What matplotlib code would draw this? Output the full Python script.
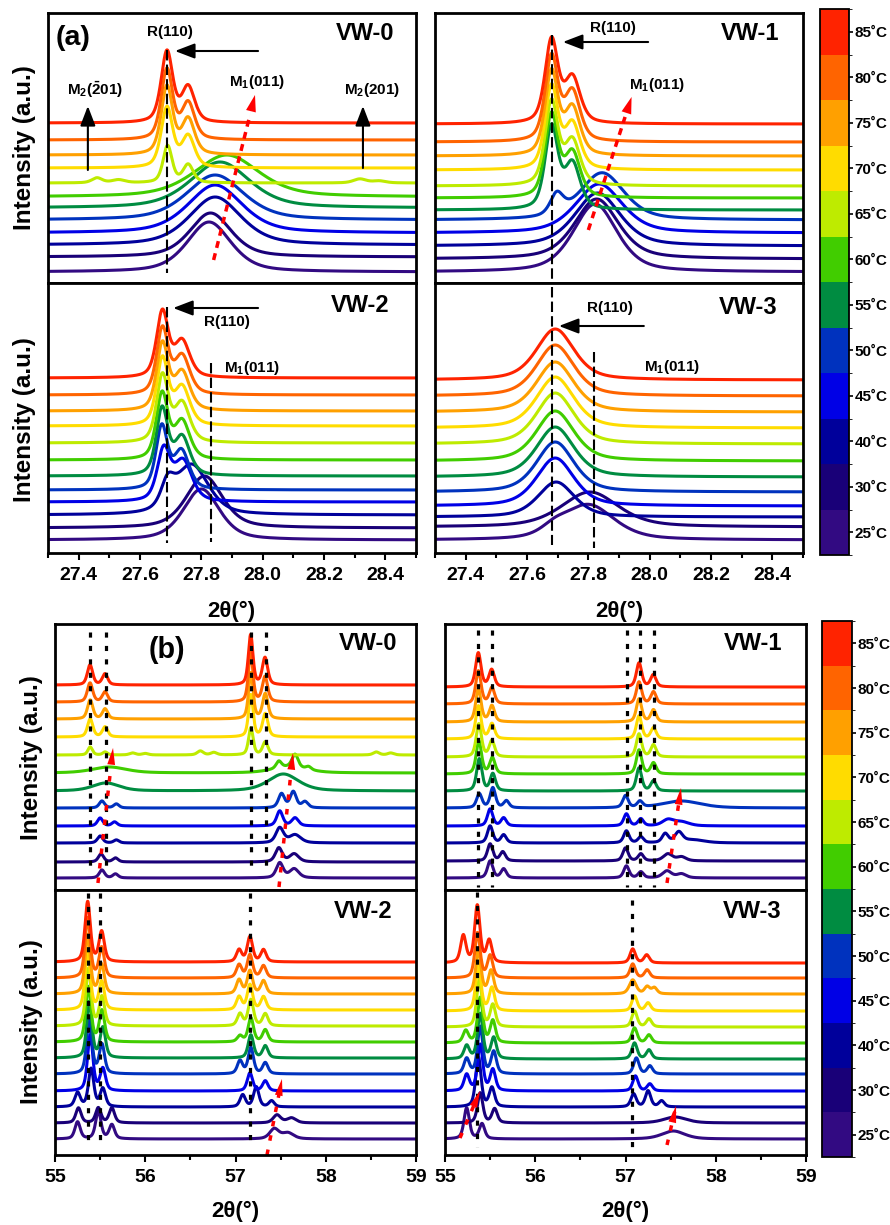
import numpy as np
import matplotlib
matplotlib.use('Agg')
import matplotlib.pyplot as plt
from matplotlib.colors import ListedColormap, BoundaryNorm
from matplotlib.cm import ScalarMappable
from matplotlib.ticker import MultipleLocator

plt.rcParams['font.family'] = ['Liberation Sans', 'DejaVu Sans']
plt.rcParams['font.weight'] = 'bold'
plt.rcParams['mathtext.fontset'] = 'custom'
plt.rcParams['mathtext.rm'] = 'Liberation Sans:bold'
plt.rcParams['mathtext.bf'] = 'Liberation Sans:bold'
plt.rcParams['mathtext.it'] = 'Liberation Sans:bold'

# ---------------- data ----------------
temps = [25, 30, 40, 45, 50, 55, 60, 65, 70, 75, 80, 85]
temp_labels = [f"{t}\u02daC" for t in temps]
colors = ['#320A82', '#190078', '#00009B', '#0000E6', '#0032BE', '#008C41',
          '#41CD00', '#BEEB00', '#FFDC00', '#FFA000', '#FF6400', '#FF2300']

# (a) 2theta 27.3-28.5 ; peaks = (centre, height, fwhm), curves ordered 25..85 C
a_vw0_base = [11, 26, 38, 50, 63, 75, 86, 100, 115, 128, 143, 160]
a_vw0_peaks = [
    [(27.825, 50, 0.17)],
    [(27.83, 44, 0.16)],
    [(27.845, 48, 0.20)],
    [(27.845, 48, 0.21)],
    [(27.845, 45, 0.22)],
    [(27.861, 46, 0.23)],
    [(27.883, 42, 0.25)],
    [(27.69, 37, 0.035), (27.757, 18, 0.04), (27.46, 5, 0.04), (27.53, 3, 0.05),
     (28.317, 4, 0.05), (28.38, 2, 0.05)],
    [(27.688, 60, 0.045), (27.757, 31, 0.05)],
    [(27.688, 68, 0.045), (27.757, 35, 0.05)],
    [(27.688, 70, 0.045), (27.757, 36, 0.05)],
    [(27.688, 71, 0.045), (27.757, 35, 0.05)],
]
a_vw1_base = [11, 24, 37, 50, 63, 73, 85, 97, 113, 127, 141, 159]
a_vw1_peaks = [
    [(27.822, 68, 0.17)],
    [(27.827, 60, 0.17)],
    [(27.83, 53, 0.175)],
    [(27.835, 49, 0.18)],
    [(27.697, 20, 0.05), (27.845, 47, 0.17)],
    [(27.68, 82, 0.05), (27.748, 45, 0.06)],
    [(27.68, 82, 0.05), (27.748, 44, 0.06)],
    [(27.68, 83, 0.05), (27.748, 44, 0.06)],
    [(27.68, 82, 0.05), (27.748, 45, 0.06)],
    [(27.68, 83, 0.05), (27.748, 47, 0.06)],
    [(27.68, 84, 0.05), (27.748, 49, 0.06)],
    [(27.68, 83, 0.05), (27.748, 45, 0.06)],
]
a_vw2_base = [13, 25, 38, 51, 63, 77, 93, 110, 127, 142, 158, 175]
a_vw2_peaks = [
    [(27.80, 51, 0.14)],
    [(27.81, 52, 0.14)],
    [(27.69, 22, 0.05), (27.768, 50, 0.13)],
    [(27.677, 50, 0.05), (27.74, 40, 0.07)],
    [(27.671, 62, 0.045), (27.735, 38, 0.06)],
    [(27.672, 66, 0.045), (27.737, 38, 0.06)],
    [(27.672, 65, 0.045), (27.737, 38, 0.06)],
    [(27.673, 66, 0.045), (27.737, 39, 0.06)],
    [(27.673, 66, 0.045), (27.737, 38, 0.06)],
    [(27.673, 66, 0.045), (27.737, 38, 0.06)],
    [(27.673, 65, 0.045), (27.737, 38, 0.06)],
    [(27.673, 65, 0.045), (27.737, 36, 0.06)],
]
a_vw3_base = [13, 26, 36, 47, 61, 76, 92, 109, 125, 141, 157, 173]
a_vw3_peaks = [
    [(27.69, 7, 0.10), (27.80, 35, 0.20)],
    [(27.805, 35, 0.22)],
    [(27.695, 35, 0.14)],
    [(27.692, 48, 0.145)],
    [(27.692, 50, 0.145)],
    [(27.692, 50, 0.145)],
    [(27.692, 50, 0.145)],
    [(27.692, 51, 0.145)],
    [(27.692, 51, 0.145)],
    [(27.692, 50, 0.145)],
    [(27.692, 51, 0.145)],
    [(27.692, 51, 0.145)],
]

# (b) 2theta 55-59
b_vw0_base = [12, 28, 47, 64, 82, 99, 117, 135, 153, 171, 188, 205]
b_vw0_peaks = [
    [(55.52, 8, 0.07), (55.67, 4, 0.07), (57.49, 15, 0.09), (57.65, 9, 0.12)],
    [(55.51, 8, 0.07), (55.67, 4, 0.07), (57.48, 14, 0.09), (57.65, 8, 0.12)],
    [(55.50, 7, 0.07), (55.68, 3, 0.07), (57.49, 15, 0.10), (57.66, 8, 0.15)],
    [(55.50, 8, 0.07), (55.66, 4, 0.07), (57.49, 15, 0.08), (57.66, 8, 0.09)],
    [(55.52, 7, 0.07), (55.68, 4, 0.07), (57.51, 14, 0.08), (57.64, 16, 0.08),
     (57.77, 6, 0.08)],
    [(55.565, 8, 0.35), (57.53, 17, 0.40)],
    [(55.60, 6, 0.45), (57.60, 6, 0.45), (57.48, 7, 0.07), (57.66, 13, 0.08),
     (57.81, 3, 0.07)],
    [(55.39, 8, 0.06), (55.555, 3, 0.06), (55.86, 2, 0.08), (56.0, 1.5, 0.08),
     (56.61, 4, 0.08), (56.76, 2.5, 0.08), (57.17, 27, 0.06), (57.33, 13, 0.07),
     (58.56, 3, 0.08), (58.72, 2, 0.08)],
    [(55.39, 18, 0.07), (55.555, 10, 0.07), (57.17, 42, 0.06), (57.33, 23, 0.07)],
    [(55.39, 19, 0.07), (55.555, 10, 0.07), (57.17, 46, 0.06), (57.33, 25, 0.07)],
    [(55.388, 19, 0.07), (55.554, 10, 0.07), (57.168, 49, 0.06), (57.327, 25, 0.07)],
    [(55.388, 20, 0.07), (55.554, 11, 0.07), (57.168, 50, 0.06), (57.327, 27, 0.07)],
]
b_vw1_base = [12, 29, 47, 64, 82, 99, 116, 133, 151, 168, 186, 203]
b_vw1_peaks = [
    [(55.50, 17, 0.07), (55.65, 9, 0.07), (57.01, 12, 0.07), (57.17, 6, 0.07),
     (57.46, 7, 0.12), (57.62, 4, 0.12)],
    [(55.50, 17, 0.07), (55.64, 9, 0.07), (57.00, 13, 0.07), (57.17, 7, 0.07),
     (57.47, 7, 0.12), (57.62, 4, 0.12)],
    [(55.50, 17, 0.07), (55.65, 8, 0.07), (57.01, 12, 0.07), (57.17, 6, 0.07),
     (57.44, 9, 0.08), (57.59, 10, 0.10), (57.75, 3, 0.30)],
    [(55.50, 17, 0.07), (55.65, 8, 0.07), (57.01, 12, 0.07), (57.17, 7, 0.07),
     (57.47, 6, 0.15), (57.62, 4, 0.20)],
    [(55.38, 14, 0.07), (55.53, 20, 0.07), (55.68, 7, 0.07), (57.00, 12, 0.07),
     (57.16, 6, 0.07), (57.62, 7, 0.50)],
    [(55.38, 32, 0.07), (55.53, 17, 0.07), (57.15, 23, 0.07), (57.31, 10, 0.07)],
    [(55.375, 33, 0.07), (55.525, 16, 0.07), (57.15, 24, 0.07), (57.31, 11, 0.07)],
    [(55.375, 33, 0.07), (55.52, 16, 0.07), (57.15, 23, 0.07), (57.31, 12, 0.07)],
    [(55.37, 33, 0.07), (55.52, 15, 0.07), (57.15, 23, 0.07), (57.31, 11, 0.07)],
    [(55.37, 33, 0.07), (55.52, 16, 0.07), (57.15, 23, 0.07), (57.31, 12, 0.07)],
    [(55.37, 33, 0.07), (55.52, 16, 0.07), (57.15, 22, 0.07), (57.31, 12, 0.07)],
    [(55.369, 34, 0.07), (55.517, 17, 0.07), (57.15, 24, 0.07), (57.308, 12, 0.07)],
]
b_vw2_base = [16, 32, 48, 64, 81, 97, 113, 129, 145, 161, 177, 193]
b_vw2_peaks = [
    [(55.25, 17, 0.07), (55.48, 28, 0.07), (55.63, 14, 0.07), (57.43, 10, 0.12),
     (57.58, 6, 0.15)],
    [(55.26, 15, 0.07), (55.48, 15, 0.07), (55.63, 15, 0.07), (57.46, 8, 0.10),
     (57.62, 5, 0.12)],
    [(55.25, 14, 0.07), (55.40, 38, 0.07), (55.53, 18, 0.07), (57.08, 12, 0.07),
     (57.23, 20, 0.07), (57.40, 6, 0.07)],
    [(55.39, 56, 0.07), (55.53, 22, 0.07), (57.16, 18, 0.07), (57.33, 10, 0.07)],
    [(55.38, 56, 0.07), (55.52, 29, 0.07), (57.05, 13, 0.07), (57.17, 26, 0.07),
     (57.33, 11, 0.07)],
    [(55.38, 56, 0.07), (55.53, 30, 0.07), (57.17, 23, 0.07), (57.33, 12, 0.07)],
    [(55.37, 55, 0.07), (55.52, 31, 0.07), (57.05, 6, 0.07), (57.17, 24, 0.07),
     (57.33, 12, 0.07)],
    [(55.37, 57, 0.07), (55.52, 29, 0.07), (57.05, 12, 0.07), (57.17, 26, 0.07),
     (57.33, 12, 0.07)],
    [(55.362, 58, 0.07), (55.517, 28, 0.07), (57.04, 13, 0.07), (57.16, 25, 0.07),
     (57.31, 13, 0.07)],
    [(55.362, 59, 0.07), (55.517, 29, 0.07), (57.04, 14, 0.07), (57.16, 23, 0.07),
     (57.31, 13, 0.07)],
    [(55.362, 60, 0.07), (55.517, 30, 0.07), (57.04, 13, 0.07), (57.16, 23, 0.07),
     (57.31, 12, 0.07)],
    [(55.362, 60, 0.07), (55.517, 30, 0.07), (57.04, 12, 0.07), (57.16, 25, 0.07),
     (57.31, 12, 0.07)],
]
b_vw3_base = [16, 32, 48, 64, 81, 96, 112, 128, 144, 161, 177, 192]
b_vw3_peaks = [
    [(55.24, 31, 0.07), (55.41, 15, 0.07), (57.53, 8, 0.30)],
    [(55.39, 30, 0.07), (55.55, 14, 0.07), (57.55, 6, 0.30)],
    [(55.37, 50, 0.07), (55.52, 19, 0.07), (57.09, 13, 0.07), (57.25, 16, 0.07),
     (57.40, 6, 0.07)],
    [(55.24, 16, 0.07), (55.39, 46, 0.07), (55.53, 21, 0.07), (57.11, 15, 0.07),
     (57.27, 7, 0.07)],
    [(55.24, 15, 0.07), (55.39, 47, 0.07), (55.54, 22, 0.07), (57.12, 16, 0.07),
     (57.27, 8, 0.07)],
    [(55.24, 13, 0.07), (55.39, 45, 0.07), (55.54, 21, 0.07), (57.10, 16, 0.07),
     (57.26, 9, 0.07)],
    [(55.23, 12, 0.07), (55.39, 45, 0.07), (55.53, 22, 0.07), (57.10, 15, 0.07),
     (57.26, 8, 0.07)],
    [(55.38, 47, 0.07), (55.53, 22, 0.07), (57.10, 16, 0.07), (57.26, 8, 0.07)],
    [(55.37, 46, 0.07), (55.52, 23, 0.07), (57.10, 15, 0.07), (57.25, 8, 0.07)],
    [(55.37, 44, 0.07), (55.51, 23, 0.07), (57.08, 14, 0.09), (57.24, 7, 0.07),
     (57.32, 6, 0.07)],
    [(55.36, 45, 0.07), (55.50, 22, 0.07), (57.08, 14, 0.07), (57.24, 8, 0.07)],
    [(55.203, 27, 0.07), (55.358, 57, 0.07), (55.49, 22, 0.07), (57.08, 14, 0.07),
     (57.235, 8, 0.07)],
]

# ---------------- helpers ----------------
W, H = 890, 1225


def profile(x, peaks, eta=0.5):
    y = np.zeros_like(x)
    for c, h, w in peaks:
        d = (x - c) / w
        y += h * (eta / (1 + 4 * d ** 2) + (1 - eta) * np.exp(-4 * np.log(2) * d ** 2))
    return y


def add_ax(fig, x0, y0, x1, y1):
    return fig.add_axes([x0 / W, 1 - y1 / H, (x1 - x0) / W, (y1 - y0) / H])


def draw_panel(ax, x, base, peaks, xlim, ylim, bottom):
    for b, p, c in zip(base, peaks, colors):
        ax.plot(x, b + profile(x, p), color=c, lw=2.2, solid_capstyle='butt')
    ax.set_xlim(*xlim)
    ax.set_ylim(*ylim)
    ax.set_yticks([])
    for s in ax.spines.values():
        s.set_linewidth(2.0)
    if not bottom:
        ax.tick_params(axis='x', which='both', bottom=False, labelbottom=False)


def red_arrow(ax, x0, y0, x1, y1, hw, dash):
    f = 0.15
    ax.plot([x0, x1 - f * (x1 - x0)], [y0, y1 - f * (y1 - y0)], color='red', lw=2.5,
            ls=dash, dash_capstyle='butt', clip_on=False)
    ax.annotate('', xy=(x1, y1), xytext=(x1 - 0.25 * (x1 - x0), y1 - 0.25 * (y1 - y0)),
                arrowprops=dict(arrowstyle=f'-|>,head_length=0.6,head_width={hw}',
                                color='red', lw=0.01, mutation_scale=20,
                                shrinkA=0, shrinkB=0))


def black_arrow(ax, x0, x1, y):
    ax.annotate('', xy=(x1, y), xytext=(x0, y),
                arrowprops=dict(arrowstyle='-|>,head_length=0.6,head_width=0.23',
                                color='black', lw=1.5, mutation_scale=20,
                                shrinkA=0, shrinkB=0))


def vline(ax, x, y0, y1, style):
    if style == 'dash':
        ax.plot([x, x], [y0, y1], color='black', lw=1.5, ls=(0, (5, 2)), dash_capstyle='butt')
    else:
        ax.plot([x, x], [y0, y1], color='black', lw=2.3, ls=(0, (1.6, 2.6)),
                dash_capstyle='butt')


def colorbar(fig, x0, y0, x1, y1):
    cax = add_ax(fig, x0, y0, x1, y1)
    cmap = ListedColormap(colors)
    norm = BoundaryNorm(np.arange(len(colors) + 1), cmap.N)
    cb = fig.colorbar(ScalarMappable(norm=norm, cmap=cmap), cax=cax,
                      ticks=np.arange(len(colors)) + 0.5)
    cb.set_ticklabels(temp_labels)
    cb.outline.set_linewidth(1.3)
    cax.tick_params(axis='y', length=3, width=1.2, pad=1.2, labelsize=11)
    for t in cax.get_yticklabels():
        t.set_fontweight('bold')
    return cax


fig = plt.figure(figsize=(W / 100, H / 100), dpi=100)

xa = np.linspace(27.3, 28.5, 1500)
xb = np.linspace(55, 59, 3000)
lim_a = (27.3, 28.5)
lim_b = (55, 59)

# ---------------- (a) ----------------
ax_a0 = add_ax(fig, 48, 13, 416, 283)
ax_a2 = add_ax(fig, 48, 283, 416, 553)
ax_a1 = add_ax(fig, 435, 13, 803, 283)
ax_a3 = add_ax(fig, 435, 283, 803, 553)
draw_panel(ax_a0, xa, a_vw0_base, a_vw0_peaks, lim_a, (0, 270), False)
draw_panel(ax_a1, xa, a_vw1_base, a_vw1_peaks, lim_a, (0, 270), False)
draw_panel(ax_a2, xa, a_vw2_base, a_vw2_peaks, lim_a, (0, 270), True)
draw_panel(ax_a3, xa, a_vw3_base, a_vw3_peaks, lim_a, (0, 270), True)
for ax in (ax_a2, ax_a3):
    ax.xaxis.set_minor_locator(MultipleLocator(0.1))
    ax.set_xticks([27.4, 27.6, 27.8, 28.0, 28.2, 28.4])
    ax.tick_params(axis='x', which='major', direction='out', length=5, width=1.5,
                   pad=5, labelsize=14)
    ax.tick_params(axis='x', which='minor', direction='out', length=3.5, width=1.5)

lab = dict(fontsize=11, fontweight='bold', ha='center', va='center')
big = dict(fontsize=17, fontweight='bold', ha='center', va='center')

# VW-0 (a)
ax_a0.text(27.382, 245, '(a)', fontsize=20.5, fontweight='bold', ha='center', va='center')
ax_a0.text(28.334, 250, 'VW-0', **big)
ax_a0.text(27.698, 251, 'R(110)', **lab)
black_arrow(ax_a0, 27.985, 27.714, 232)
vline(ax_a0, 27.688, 233, 10, 'dash')
red_arrow(ax_a0, 27.84, 23, 27.975, 188, 0.18, (0, (2, 1.6)))
ax_a0.text(27.981, 201, r'M$_\mathbf{1}$(011)', **lab)
ax_a0.text(27.453, 193, r'M$_\mathbf{2}$($\mathbf{\bar{2}}$01)', **lab)
ax_a0.text(28.356, 193, r'M$_\mathbf{2}$(201)', **lab)
for xx, y0 in ((27.43, 113), (28.327, 115)):
    ax_a0.annotate('', xy=(xx, 177), xytext=(xx, y0),
                   arrowprops=dict(arrowstyle='-|>,head_length=0.6,head_width=0.23',
                                   color='black', lw=1.5, mutation_scale=20,
                                   shrinkA=0, shrinkB=0))

# VW-1 (a)
ax_a1.text(28.327, 250, 'VW-1', **big)
ax_a1.text(27.880, 255, 'R(110)', **lab)
black_arrow(ax_a1, 27.995, 27.717, 241)
vline(ax_a1, 27.68, 248, 0, 'dash')
red_arrow(ax_a1, 27.80, 53, 27.941, 186, 0.18, (0, (2, 1.6)))
ax_a1.text(28.024, 198, r'M$_\mathbf{1}$(011)', **lab)

# VW-2 (a)
ax_a2.text(28.317, 248, 'VW-2', **big)
ax_a2.text(27.884, 231, 'R(110)', **lab)
black_arrow(ax_a2, 27.985, 27.708, 245)
vline(ax_a2, 27.688, 246, 10, 'dash')
vline(ax_a2, 27.83, 190, 11, 'dash')
ax_a2.text(27.965, 185, r'M$_\mathbf{1}$(011)', **lab)

# VW-3 (a)
ax_a3.text(28.32, 246, 'VW-3', **big)
ax_a3.text(27.871, 245, 'R(110)', **lab)
black_arrow(ax_a3, 27.981, 27.704, 227)
vline(ax_a3, 27.68, 266, 8, 'dash')
vline(ax_a3, 27.818, 201, 5, 'dash')
ax_a3.text(28.073, 186, r'M$_\mathbf{1}$(011)', **lab)

colorbar(fig, 820, 9, 849, 555)

# ---------------- (b) ----------------
ax_b0 = add_ax(fig, 55, 624, 416, 890)
ax_b2 = add_ax(fig, 55, 890, 416, 1155)
ax_b1 = add_ax(fig, 445, 624, 806, 890)
ax_b3 = add_ax(fig, 445, 890, 806, 1155)
draw_panel(ax_b0, xb, b_vw0_base, b_vw0_peaks, lim_b, (0, 266), False)
draw_panel(ax_b1, xb, b_vw1_base, b_vw1_peaks, lim_b, (0, 266), False)
draw_panel(ax_b2, xb, b_vw2_base, b_vw2_peaks, lim_b, (0, 265), True)
draw_panel(ax_b3, xb, b_vw3_base, b_vw3_peaks, lim_b, (0, 265), True)
for ax in (ax_b2, ax_b3):
    ax.set_xticks([55, 56, 57, 58, 59])
    ax.xaxis.set_minor_locator(MultipleLocator(0.5))
    ax.tick_params(axis='x', which='major', direction='out', length=5, width=1.5,
                   pad=5, labelsize=14)
    ax.tick_params(axis='x', which='minor', direction='out', length=3.5, width=1.5)

# VW-0 (b)
ax_b0.text(56.241, 240, '(b)', fontsize=20.7, fontweight='bold', ha='center', va='center')
ax_b0.text(58.468, 247, 'VW-0', **big)
for xx in (55.388, 55.565, 57.168, 57.335):
    vline(ax_b0, xx, 258, 22, 'dot')
red_arrow(ax_b0, 55.476, 7, 55.643, 142, 0.14, (0, (1.6, 2.6)))
red_arrow(ax_b0, 57.482, 3, 57.637, 137, 0.14, (0, (1.6, 2.6)))

# VW-1 (b)
ax_b1.text(58.413, 247, 'VW-1', **big)
for xx in (55.369, 55.517, 57.02, 57.16, 57.316):
    vline(ax_b1, xx, 260, 3, 'dot')
red_arrow(ax_b1, 57.46, 7, 57.615, 102, 0.14, (0, (1.6, 2.6)))

# VW-2 (b)
ax_b2.text(58.413, 243, 'VW-2', **big)
for xx in (55.362, 55.50, 57.16):
    vline(ax_b2, xx, 262, 10, 'dot')
red_arrow(ax_b2, 57.349, 0, 57.515, 76, 0.14, (0, (1.6, 2.6)))

# VW-3 (b)
ax_b3.text(58.40, 243, 'VW-3', **big)
vline(ax_b3, 55.358, 263, 8, 'dot')
vline(ax_b3, 57.075, 255, 8, 'dot')
red_arrow(ax_b3, 55.166, 17, 55.388, 64, 0.14, (0, (1.6, 2.6)))
red_arrow(ax_b3, 57.46, 10, 57.56, 49, 0.14, (0, (1.6, 2.6)))

colorbar(fig, 822, 621, 852, 1157)

# ---------------- axis titles ----------------
for (x, y) in ((25, 148), (25, 420), (32, 758), (32, 1022)):
    fig.text(x / W, 1 - y / H, 'Intensity (a.u.)', rotation=90, fontsize=17.5,
             fontweight='bold', ha='center', va='center')
for (x, y) in ((231, 611), (619, 611), (235, 1211), (625, 1211)):
    fig.text(x / W, 1 - y / H, '2\u03b8(\u00b0)', fontsize=16, fontweight='bold',
             ha='center', va='center')

fig.savefig('out.png', dpi=100)
